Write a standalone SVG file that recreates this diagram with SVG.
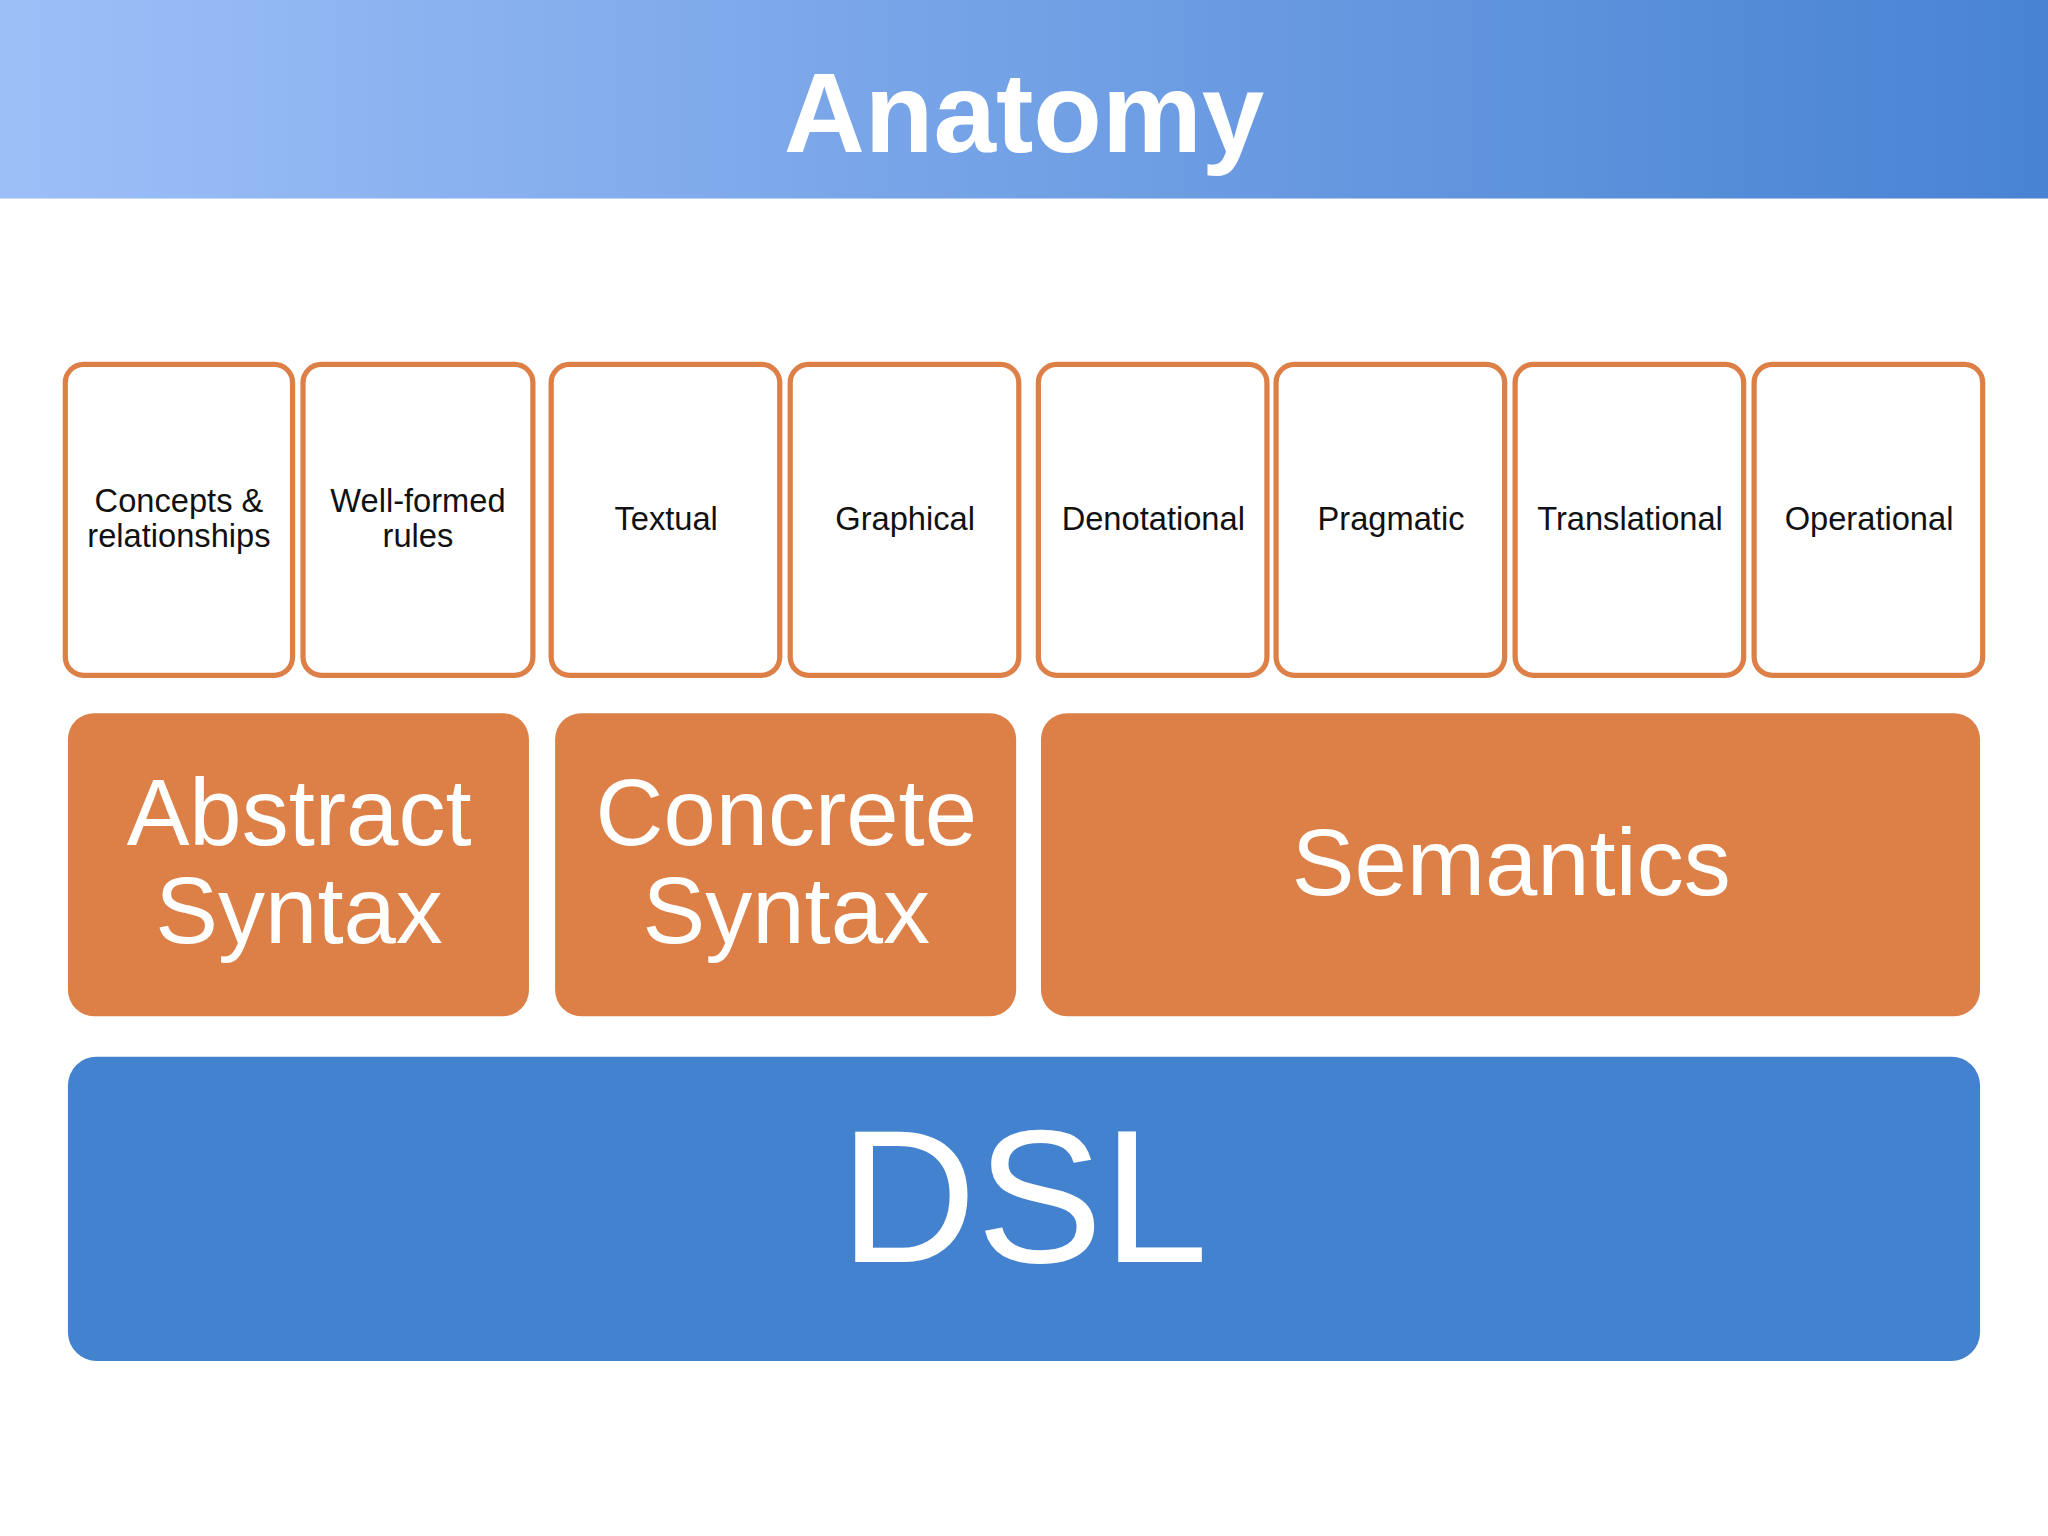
<svg xmlns="http://www.w3.org/2000/svg" width="2048" height="1536" viewBox="0 0 2048 1536">
<defs>
<linearGradient id="hg" x1="0" y1="0" x2="1" y2="0"><stop offset="0" stop-color="#9dbff8"/><stop offset="1" stop-color="#4883d3"/></linearGradient>
<style>
.sb{fill:#fff;stroke:#dd8048;stroke-width:4}
.st{font-family:"Liberation Sans",Arial,sans-serif;font-size:25px;fill:#111;text-anchor:middle}
.ob{fill:#dd8048}
.ot{font-family:"Liberation Sans",Arial,sans-serif;font-size:72px;fill:#fff;text-anchor:middle}
</style>
</defs>
<rect width="2048" height="1536" fill="#fff"/>
<g transform="scale(1.30612)">
<g id="header"><rect x="0" y="0" width="1568" height="152" fill="url(#hg)"/>
<text x="784" y="116" font-family="Liberation Sans,Arial,sans-serif" font-weight="bold" font-size="86" fill="#fff" text-anchor="middle">Anatomy</text></g>
<g id="concepts"><rect class="sb" x="50" y="279" width="174" height="238" rx="14"/><text class="st" x="137" y="392">Concepts &amp;</text><text class="st" x="137" y="419">relationships</text></g>
<g id="wellformed"><rect class="sb" x="232" y="279" width="176" height="238" rx="14"/><text class="st" x="320" y="392">Well-formed</text><text class="st" x="320" y="419">rules</text></g>
<g id="textual"><rect class="sb" x="422" y="279" width="175" height="238" rx="14"/><text class="st" x="510" y="406">Textual</text></g>
<g id="graphical"><rect class="sb" x="605" y="279" width="175" height="238" rx="14"/><text class="st" x="693" y="406">Graphical</text></g>
<g id="denotational"><rect class="sb" x="795" y="279" width="175" height="238" rx="14"/><text class="st" x="883" y="406">Denotational</text></g>
<g id="pragmatic"><rect class="sb" x="977" y="279" width="175" height="238" rx="14"/><text class="st" x="1065" y="406">Pragmatic</text></g>
<g id="translational"><rect class="sb" x="1160" y="279" width="175" height="238" rx="14"/><text class="st" x="1248" y="406">Translational</text></g>
<g id="operational"><rect class="sb" x="1343" y="279" width="175" height="238" rx="14"/><text class="st" x="1431" y="406">Operational</text></g>
<g id="abstract"><rect class="ob" x="52" y="546" width="353" height="232" rx="20"/><text class="ot" x="229" y="647">Abstract</text><text class="ot" x="229" y="722">Syntax</text></g>
<g id="concrete"><rect class="ob" x="425" y="546" width="353" height="232" rx="20"/><text class="ot" x="602" y="647">Concrete</text><text class="ot" x="602" y="722">Syntax</text></g>
<g id="semantics"><rect class="ob" x="797" y="546" width="719" height="232" rx="20"/><text class="ot" x="1157" y="685">Semantics</text></g>
<g id="dsl"><rect fill="#4382ce" x="52" y="809" width="1464" height="233" rx="22"/><text x="784" y="966" font-family="Liberation Sans,Arial,sans-serif" font-size="145" fill="#fff" text-anchor="middle">DSL</text></g>
<g id="connectors"/>
</g>
</svg>
